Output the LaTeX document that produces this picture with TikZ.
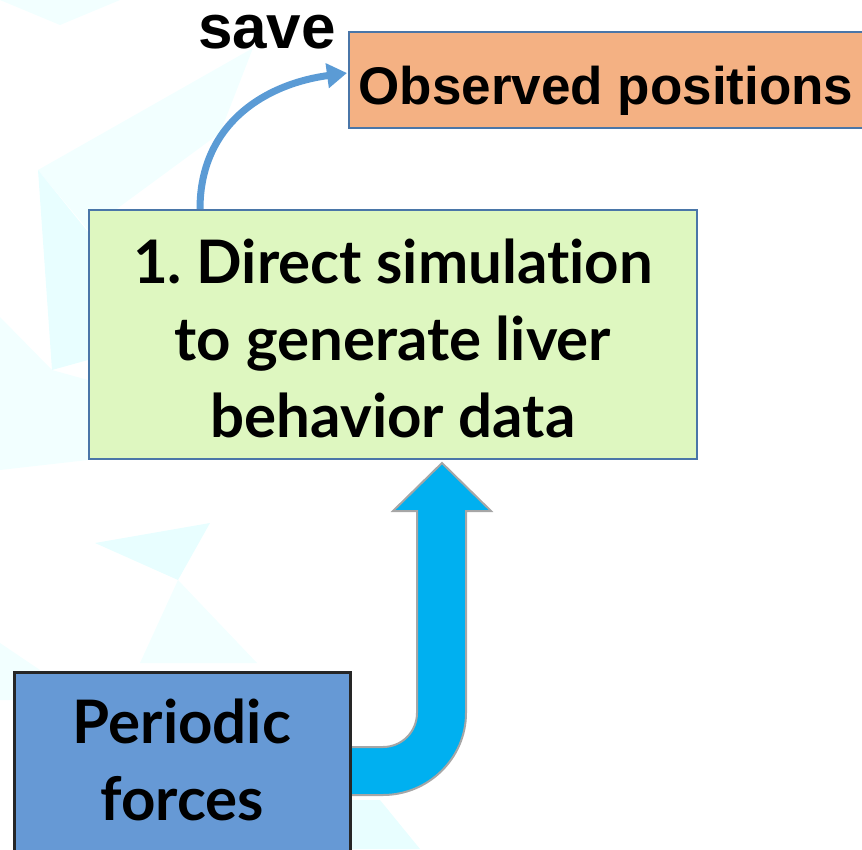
\documentclass[tikz,border=0pt]{standalone}
\usepackage{fontspec}
\setmainfont{Lato}[Ligatures={NoCommon}]
\newfontfamily\arialf{Liberation Sans}
\usetikzlibrary{arrows.meta,calc}
\definecolor{obsfill}{HTML}{F4B183}
\definecolor{boxline}{HTML}{4A76A8}
\definecolor{greenfill}{HTML}{DEF7C0}
\definecolor{pffill}{HTML}{6699D5}
\definecolor{pfline}{HTML}{262626}
\definecolor{thinblue}{HTML}{5B9BD5}
\definecolor{bigfill}{HTML}{00B0F0}
\definecolor{bigline}{HTML}{A6A6A6}
\definecolor{bgA}{HTML}{E8FEFF}
\definecolor{bgB}{HTML}{F2FFFF}
\tikzset{
  boxbase/.style={rectangle, inner sep=0pt, anchor=north west},
  obsbox/.style={boxbase, fill=obsfill, draw=boxline, line width=2pt},
  greenbox/.style={boxbase, fill=greenfill, draw=boxline, line width=2pt},
  pfbox/.style={boxbase, fill=pffill, draw=pfline, line width=3pt},
  latotext/.style={font=\fontsize{60}{77}\selectfont\bfseries\frenchspacing, align=center},
  thinarrow/.style={draw=thinblue, line width=7pt, -{Triangle[length=20pt,width=24pt]}},
  bigarrow/.style={fill=bigfill, draw=bigline, line width=2pt, line join=miter},
  bgpolyA/.style={fill=bgA, draw=none},
  bgpolyB/.style={fill=bgB, draw=none}
}
\begin{document}
\frenchspacing
\begin{tikzpicture}[x=1pt,y=-1pt]
\useasboundingbox (0,0) rectangle (862,849);
% faint background polygons
\fill[bgpolyB] (38,170) -- (253,48) -- (220,133) -- (88,230) -- cycle;
\fill[bgpolyA] (38,170) -- (88,232) -- (88,360) -- (52,370) -- cycle;
\fill[bgpolyB] (0,317) -- (52,370) -- (88,380) -- (88,460) -- (0,470) -- cycle;
\fill[bgpolyA] (95,543) -- (210,523) -- (178,580) -- cycle;
\fill[bgpolyB] (178,580) -- (140,663) -- (257,663) -- cycle;
\fill[bgpolyB] (0,643) -- (40,670) -- (13,700) -- (0,700) -- cycle;
\fill[bgpolyA] (349,800) -- (380,800) -- (420,849) -- (349,849) -- cycle;
\fill[bgpolyB] (0,0) -- (120,0) -- (60,25) -- cycle;
% boxes
\node[obsbox, minimum width=530pt, minimum height=96pt] (obs) at (348,31) {};
\node[font=\arialf\bfseries\fontsize{53}{60}\selectfont, anchor=base] (obstext) at (606,104) {Observed positions};
\node[font=\arialf\bfseries\fontsize{62}{70}\selectfont, anchor=base] (save) at (267,48) {save};
\node[greenbox, minimum width=608pt, minimum height=249pt] (green) at (88,209) {};
\node[latotext] (greentext) at (393,338) {1. Direct simulation\\to generate liver\\behavior data};
% big block arrow
\path[bigarrow] (340,747) -- (383,747) .. controls (401.8,747) and (417,731.8) .. (417,713)
  -- (417,511) -- (393,511) -- (442,463) -- (491,511) -- (466,511) -- (466,713)
  .. controls (466,758.3) and (428.3,795) .. (383,795) -- (340,795) -- cycle;
\node[pfbox, minimum width=336pt, minimum height=200pt] (pf) at (13,671) {};
\node[latotext] (pftext) at (182,760) {Periodic\\forces};
% thin curved arrow
\draw[thinarrow] ($(green.north west)+(112,0)$) .. controls +(0,-85) and (265,84) .. ($(obs.west)+(-1,-7)$);
\end{tikzpicture}
\end{document}
